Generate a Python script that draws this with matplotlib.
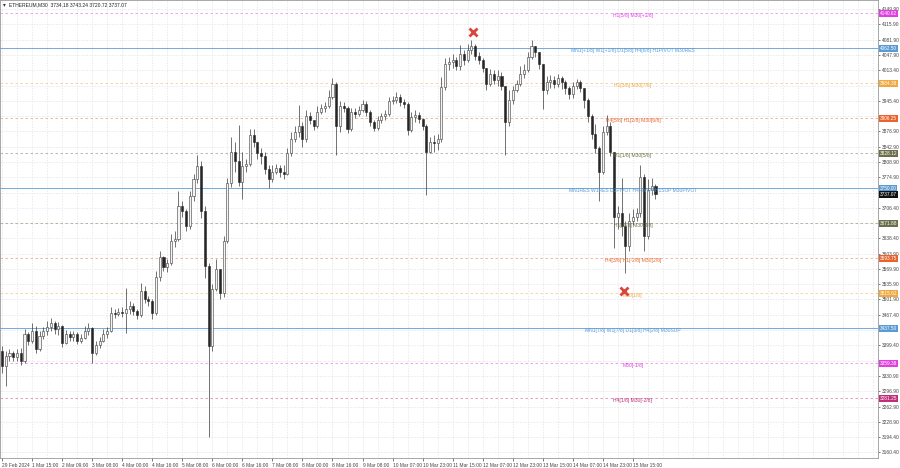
import numpy as np
import matplotlib
matplotlib.use("Agg")
import matplotlib.pyplot as plt

plt.rcParams['font.family'] = ['Liberation Sans', 'DejaVu Sans']

# ETHEREUM M30 chart, candles grouped 4 x M30 (2h)
open0 = 3387
closes = [3354, 3376, 3383, 3374, 3383, 3365, 3425, 3409, 3432, 3392,
          3421, 3432, 3441, 3450, 3436, 3443, 3405, 3425, 3418, 3425,
          3409, 3416, 3432, 3438, 3383, 3401, 3409, 3425, 3432, 3472,
          3470, 3474, 3472, 3481, 3487, 3476, 3467, 3521, 3503, 3498,
          3472, 3552, 3596, 3574, 3583, 3632, 3636, 3710, 3699, 3665,
          3732, 3770, 3799, 3699, 3576, 3398, 3525, 3570, 3516, 3632,
          3761, 3832, 3810, 3765, 3799, 3805, 3870, 3854, 3828, 3821,
          3792, 3770, 3787, 3796, 3787, 3783, 3828, 3861, 3876, 3888,
          3859, 3912, 3903, 3888, 3921, 3930, 3934, 3954, 3983, 3888,
          3934, 3930, 3883, 3921, 3916, 3925, 3939, 3921, 3899, 3885,
          3903, 3912, 3916, 3945, 3948, 3954, 3943, 3939, 3881, 3910,
          3914, 3905, 3890, 3832, 3854, 3850, 3859, 3977, 4028, 4032,
          4037, 4023, 4050, 4037, 4059, 4068, 4045, 4037, 4019, 3983,
          4005, 3992, 4001, 3979, 3899, 3948, 3970, 3983, 4005, 4014,
          4043, 4068, 4054, 4028, 3970, 3988, 3992, 3983, 3996, 3988,
          3974, 3961, 3979, 3988, 3974, 3948, 3912, 3872, 3841, 3787,
          3876, 3888, 3832, 3687, 3694, 3665, 3621, 3676, 3687, 3694,
          3776, 3643, 3747, 3756, 3737.07]
highs = [3398, 3387, 3392, 3387, 3392, 3394, 3436, 3429, 3450, 3443,
         3432, 3441, 3454, 3461, 3454, 3452, 3445, 3434, 3432, 3432,
         3429, 3425, 3443, 3450, 3441, 3409, 3418, 3436, 3441, 3485,
         3481, 3483, 3485, 3527, 3498, 3494, 3481, 3538, 3532, 3510,
         3503, 3565, 3610, 3598, 3592, 3647, 3654, 3743, 3721, 3703,
         3743, 3783, 3825, 3810, 3710, 3583, 3536, 3592, 3570, 3643,
         3774, 3865, 3854, 3892, 3832, 3816, 3883, 3883, 3854, 3841,
         3832, 3803, 3801, 3805, 3801, 3803, 3841, 3876, 3888, 3936,
         3899, 3925, 3921, 3903, 3934, 3939, 3943, 3970, 3996, 3988,
         3945, 3943, 3934, 3930, 3930, 3934, 3948, 3944, 3925, 3903,
         3912, 3919, 3925, 3954, 3956, 3965, 3961, 3950, 3943, 3921,
         3925, 3921, 3908, 3894, 3865, 3868, 3872, 3999, 4041, 4043,
         4050, 4043, 4070, 4059, 4072, 4081, 4072, 4054, 4041, 4019,
         4017, 4014, 4014, 4010, 3979, 3970, 3979, 3992, 4023, 4028,
         4054, 4081, 4068, 4054, 4028, 4001, 4003, 4001, 4005, 4001,
         3992, 3979, 3988, 3994, 3992, 3974, 3952, 3916, 3894, 3845,
         3890, 3914, 3899, 3832, 3710, 3772, 3676, 3694, 3703, 3707,
         3803, 3783, 3770, 3774, 3760]
lows = [3338, 3309, 3365, 3365, 3365, 3356, 3361, 3401, 3405, 3383,
        3387, 3414, 3423, 3432, 3425, 3423, 3396, 3403, 3409, 3409,
        3403, 3405, 3414, 3423, 3361, 3378, 3394, 3407, 3416, 3429,
        3461, 3465, 3463, 3427, 3470, 3467, 3458, 3463, 3494, 3487,
        3458, 3467, 3543, 3565, 3563, 3578, 3618, 3632, 3687, 3654,
        3659, 3721, 3761, 3683, 3550, 3194, 3387, 3521, 3503, 3507,
        3627, 3752, 3787, 3756, 3727, 3787, 3799, 3843, 3816, 3805,
        3783, 3750, 3765, 3781, 3776, 3770, 3779, 3821, 3854, 3865,
        3843, 3854, 3894, 3881, 3885, 3916, 3921, 3930, 3950, 3825,
        3876, 3921, 3874, 3879, 3908, 3912, 3921, 3912, 3890, 3879,
        3881, 3896, 3903, 3912, 3939, 3941, 3934, 3930, 3868, 3876,
        3899, 3896, 3881, 3736, 3828, 3832, 3836, 3854, 3970, 4014,
        4019, 4014, 4014, 4025, 4032, 4050, 4037, 4028, 4010, 3970,
        3979, 3983, 3979, 3970, 3825, 3890, 3939, 3965, 3979, 3996,
        4010, 4039, 4043, 4017, 3928, 3961, 3974, 3974, 3977, 3972,
        3961, 3950, 3952, 3972, 3965, 3930, 3899, 3859, 3828, 3721,
        3783, 3870, 3821, 3616, 3659, 3643, 3561, 3610, 3667, 3676,
        3687, 3610, 3636, 3734, 3727]

# murrey levels: value, label, colour, line style
lvl_values = [4140.62, 4062.50, 3984.38, 3906.25, 3828.12, 3750.00,
              3671.88, 3593.75, 3515.62, 3437.50, 3359.38, 3281.25]
lvl_labels = ["H1[5/8] M30[+1/8]",
              "MN1[+1/8] W1[+1/8] D1[5/8] H4[6/8] H1PIVOT M30RES",
              "H1[3/8] M30[7/8]",
              "H4[5/8] H1[2/8] M30[6/8]",
              "H1[1/8] M30[5/8]",
              "MN1RES W1RES D1PIVOT H4PIVOT H1SUP M30PIVOT",
              "H1[-1/8] M30[3/8]",
              "H4[3/8] H1[-2/8] M30[2/8]",
              "M30[1/8]",
              "MN1[7/8] W1[7/8] D1[3/8] H4[2/8] M30SUP",
              "M30[-1/8]",
              "H4[1/8] M30[-2/8]"]
lvl_colors = ['#e040e0', '#5b9bd5', '#f0a840', '#e8642c', '#6b7048', '#5b9bd5',
              '#6b7048', '#e8642c', '#f0a840', '#5b9bd5', '#e040e0', '#c0307a']
lvl_styles = ['dot', 'solid', 'dot', 'dot', 'dot', 'solid',
              'dot', 'dot', 'dot', 'solid', 'dot', 'dot']

yticks = [4149.90, 4115.90, 4081.90, 4047.90, 4013.40, 3979.40, 3945.40, 3911.40,
          3876.90, 3842.90, 3808.90, 3774.90, 3740.40, 3706.40, 3672.40, 3638.40,
          3603.90, 3569.90, 3535.90, 3501.90, 3467.40, 3433.40, 3399.40, 3365.40,
          3330.90, 3296.90, 3262.90, 3228.90, 3194.40, 3160.40]
xlabels = ["29 Feb 2024", "1 Mar 15:00", "2 Mar 09:00", "3 Mar 08:00", "4 Mar 00:00",
           "4 Mar 16:00", "5 Mar 08:00", "6 Mar 00:00", "6 Mar 16:00", "7 Mar 08:00",
           "8 Mar 00:00", "8 Mar 16:00", "9 Mar 08:00", "10 Mar 07:00", "10 Mar 23:00",
           "11 Mar 15:00", "12 Mar 07:00", "12 Mar 23:00", "13 Mar 15:00", "14 Mar 07:00",
           "14 Mar 23:00", "15 Mar 15:00"]

# red crosses (bar index, price)
mark_x = [502, 662]
mark_y = [4099, 3521]

fig = plt.figure(figsize=(9, 4.68), dpi=100)
ax = fig.add_axes([0.0, 10 / 468, 878 / 900, 458 / 468])
ax.set_xlim(-2.1, 933)
ax.set_ylim(3148, 4170.3)

# grid
for gx in np.arange(0, 933, 16):
    ax.axvline(gx, color='#e2e2e2', lw=0.5, ls=(0, (2, 2)), zorder=0)
for gy in yticks:
    ax.axhline(gy, color='#e2e2e2', lw=0.5, ls=(0, (2, 2)), zorder=0)

# levels
for v, lab, c, st in zip(lvl_values, lvl_labels, lvl_colors, lvl_styles):
    if st == 'solid':
        ax.axhline(v, color=c, lw=0.7, alpha=0.85, zorder=1)
    else:
        ax.axhline(v, color=c, lw=0.6, ls=(0, (3, 3)), alpha=0.55, zorder=1)
    ax.annotate(lab, (672, v), xytext=(0, -1.8), textcoords='offset points',
                ha='center', va='center', fontsize=3.6, color=c, zorder=5)

# candles
closes = np.array(closes, dtype=float)
highs = np.array(highs, dtype=float)
lows = np.array(lows, dtype=float)
opens = np.concatenate([[open0], closes[:-1]])
xs = np.arange(len(closes)) * 4
ax.vlines(xs, lows, highs, color='#3a3a3a', lw=0.5, zorder=3)
up = closes >= opens
ax.bar(xs[up], (closes - opens)[up], bottom=opens[up], width=2.2,
       facecolor='#f4f4f4', edgecolor='#3a3a3a', lw=0.4, zorder=4)
ax.bar(xs[~up], (opens - closes)[~up], bottom=closes[~up], width=2.2,
       facecolor='#262626', edgecolor='#262626', lw=0.4, zorder=4)

ax.plot(mark_x, mark_y, ls='none', marker='x', color='#d9463e', ms=6, mew=2, zorder=6)

# price tags on the right scale
tag_vals = lvl_values + [3737.07]
tag_cols = lvl_colors + ['#111111']

# axes
ax.yaxis.tick_right()
ax.set_yticks(yticks)
ylabs = []
for t in yticks:
    # labels sitting under a price tag are covered in the original
    hidden = min(abs(t - v) for v in tag_vals) < 7
    ylabs.append('' if hidden else '%.2f' % t)
ax.set_yticklabels(ylabs)
ax.tick_params(axis='y', labelsize=3.5, length=1.5, width=0.5, pad=1, colors='#444444')
ax.set_xticks(np.arange(len(xlabels)) * 32)
ax.set_xticklabels(xlabels, ha='left')
ax.tick_params(axis='x', labelsize=3.5, length=2, width=0.5, pad=1.5, colors='#444444')
for s in ax.spines.values():
    s.set_color('#999999')
    s.set_linewidth(0.6)

for v, c in zip(tag_vals, tag_cols):
    ax.annotate('%.2f' % v, (1.0, v), xycoords=('axes fraction', 'data'),
                xytext=(1.2, 0), textcoords='offset points', ha='left', va='center',
                fontsize=3.4, color='white', zorder=7, annotation_clip=False,
                bbox=dict(boxstyle='square,pad=0.2', fc=c, ec='none'))

fig.text(3 / 900, 1 - 5 / 468, u'\u25be', fontsize=4, color='#333333', va='center',
         family='DejaVu Sans')
fig.text(9 / 900, 1 - 5 / 468, 'ETHEREUM,M30  3734.18 3743.24 3720.72 3737.07',
         fontsize=3.6, color='#222222', va='center')

fig.savefig('out.png', dpi=100, facecolor='white')
